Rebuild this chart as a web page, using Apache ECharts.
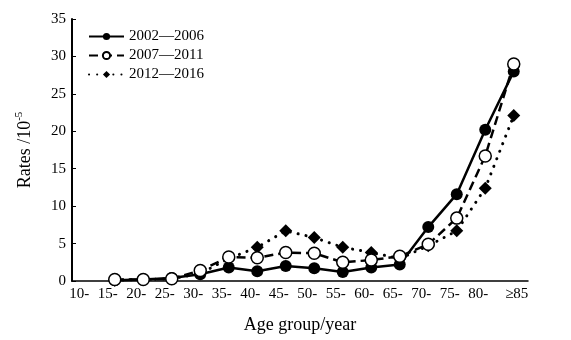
<!DOCTYPE html>
<html>
<head>
<meta charset="utf-8">
<script src="https://cdn.jsdelivr.net/npm/echarts@6/dist/echarts.min.js"></script>
<style>
  html, body { margin: 0; padding: 0; background: #fff; }
  #chart { width: 571px; height: 340px; }
</style>
</head>
<body>
<div id="chart"></div>
<script>
// Age groups along the x axis
const ageGroups = ['10-', '15-', '20-', '25-', '30-', '35-', '40-', '45-', '50-', '55-', '60-', '65-', '70-', '75-', '80-', '≥85'];

// Rates per 100 000 for each period
const rates2002 = ['-', 0.1, 0.2, 0.4, 0.9, 1.8, 1.3, 2.0, 1.7, 1.2, 1.8, 2.2, 7.2, 11.6, 20.2, 28.0];
const rates2007 = ['-', 0.2, 0.2, 0.3, 1.4, 3.2, 3.1, 3.8, 3.7, 2.5, 2.8, 3.3, 4.9, 8.4, 16.7, 29.0];
const rates2012 = ['-', 0.1, 0.2, 0.3, 1.0, 3.0, 4.5, 6.7, 5.8, 4.5, 3.8, 3.0, 4.7, 6.7, 12.4, 22.1];

const seriesNames = ['2002\u20142006', '2007\u20142011', '2012\u20142016'];
const yTicks = { min: 0, max: 35, step: 5 };

const FONT = 'Liberation Serif';
const chart = echarts.init(document.getElementById('chart'), null, { renderer: 'canvas' });

chart.setOption({
  animation: false,
  backgroundColor: '#fff',
  grid: { left: 72, right: 43, top: 19, bottom: 59, containLabel: false, outerBoundsMode: 'none' },
  legend: {
    left: 83,
    top: 24,
    orient: 'vertical',
    itemWidth: 35,
    itemHeight: 9,
    itemGap: 4,
    textStyle: { fontFamily: FONT, fontSize: 15, color: '#000' },
    data: seriesNames
  },
  xAxis: {
    type: 'category',
    data: ageGroups,
    boundaryGap: true,
    name: 'Age group/year',
    nameLocation: 'middle',
    nameGap: 35,
    nameTextStyle: { fontFamily: FONT, fontSize: 18, color: '#000' },
    axisLine: { lineStyle: { color: '#000', width: 1.5 } },
    axisTick: { inside: true, length: 4, lineStyle: { color: '#000', width: 1 } },
    axisLabel: {
      interval: 0,
      margin: 6,
      color: '#000',
      fontFamily: FONT,
      fontSize: 15,
      formatter: function (v) {
        return v === '≥85' ? '{l|' + v + '}' : '{n|' + v + '}';
      },
      rich: {
        n: { fontFamily: FONT, fontSize: 15, color: '#000', padding: [0, 14, 0, 0] },
        l: { fontFamily: FONT, fontSize: 15, color: '#000', padding: [0, 0, 0, 6] }
      }
    }
  },
  yAxis: {
    type: 'value',
    min: yTicks.min,
    max: yTicks.max,
    interval: yTicks.step,
    name: 'Rates /10{sup|-5}',
    nameLocation: 'middle',
    nameGap: 36,
    nameTextStyle: {
      fontFamily: FONT, fontSize: 18, color: '#000',
      rich: {
        sup: { fontFamily: FONT, fontSize: 11, color: '#000', verticalAlign: 'top', lineHeight: 22 }
      }
    },
    splitLine: { show: false },
    axisLine: { show: true, lineStyle: { color: '#000', width: 2 } },
    axisTick: { show: true, inside: true, length: 4, lineStyle: { color: '#000', width: 1 } },
    axisLabel: { margin: 6, color: '#000', fontFamily: FONT, fontSize: 15 }
  },
  series: [
    {
      name: seriesNames[0],
      type: 'line',
      data: rates2002,
      z: 2,
      symbol: 'circle',
      symbolSize: 12,
      itemStyle: { color: '#000', borderColor: '#000', borderWidth: 0 },
      lineStyle: { color: '#000', width: 2.5 }
    },
    {
      name: seriesNames[1],
      type: 'line',
      data: rates2007,
      z: 4,
      symbol: 'circle',
      symbolSize: 12,
      itemStyle: { color: '#fff', borderColor: '#000', borderWidth: 1.5 },
      lineStyle: { color: '#000', width: 2.5, type: [9, 5] }
    },
    {
      name: seriesNames[2],
      type: 'line',
      data: rates2012,
      z: 3,
      symbol: 'diamond',
      symbolSize: 13,
      itemStyle: { color: '#000', borderColor: '#000', borderWidth: 0 },
      lineStyle: { color: '#000', width: 3, type: [0.1, 8], cap: 'round' }
    }
  ]
});
</script>
</body>
</html>
